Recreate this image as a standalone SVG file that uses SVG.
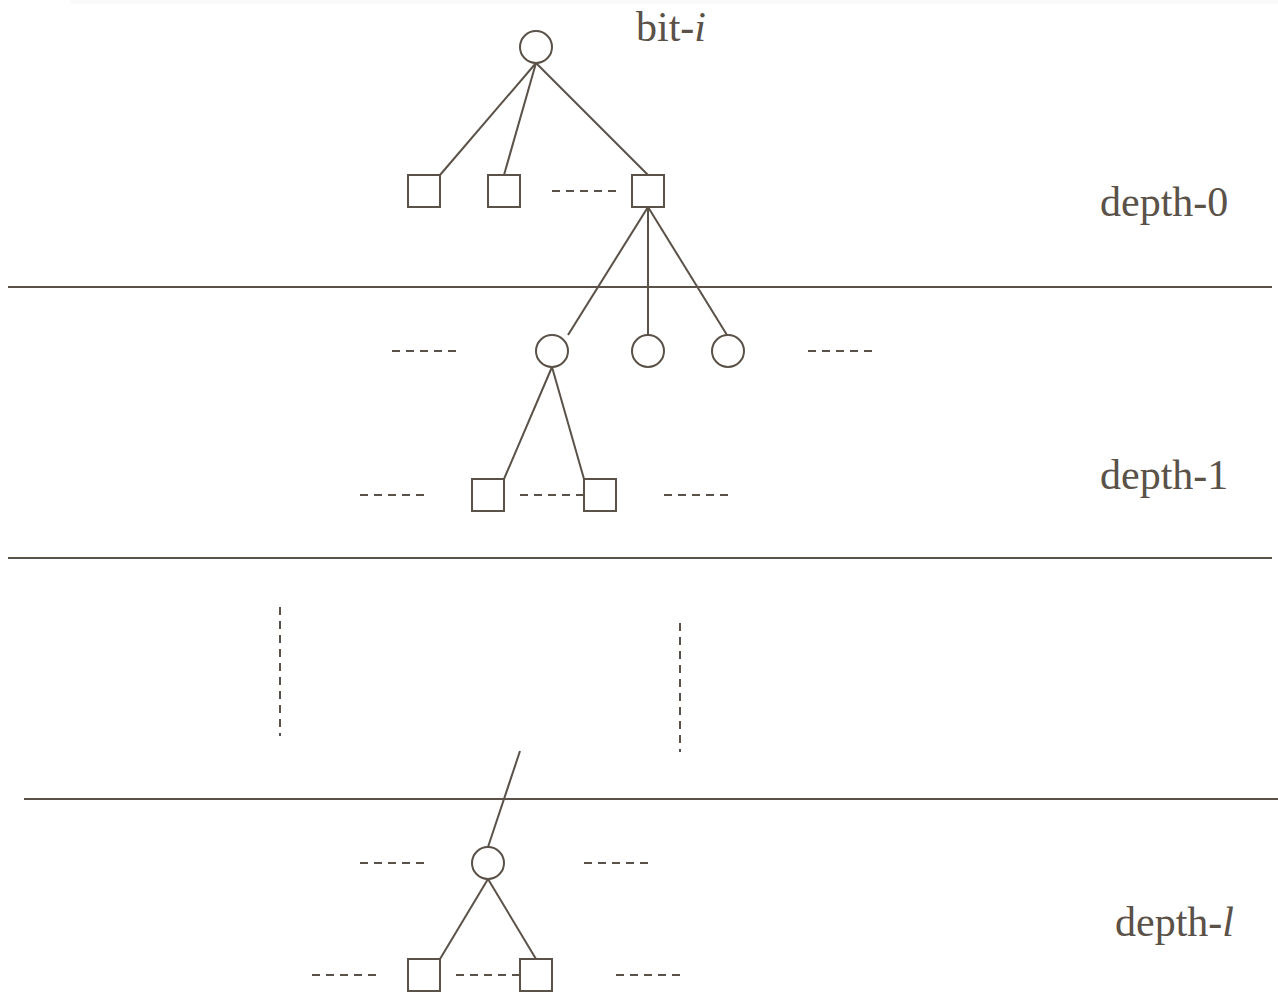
<svg xmlns="http://www.w3.org/2000/svg" width="1278" height="998" viewBox="0 0 1278 998">
  <style>
    .ln { stroke: #5a5148; stroke-width: 2; fill: none; }
    .dash { stroke: #5a5148; stroke-width: 2; fill: none; stroke-dasharray: 8 6; }
    .node { stroke: #5a5148; stroke-width: 2; fill: #ffffff; }
    .lbl { font-family: "Liberation Serif", "Times New Roman", serif; font-size: 42px; fill: #5a5148; }
  </style>
  <rect x="0" y="0" width="1278" height="998" fill="#ffffff"/>
  <rect x="70" y="0" width="1208" height="4" fill="#fafafa"/>

  <!-- level separators -->
  <g id="separators">
    <line class="ln" x1="8" y1="287" x2="1272" y2="287"/>
    <line class="ln" x1="8" y1="558" x2="1272" y2="558"/>
    <line class="ln" x1="24" y1="799" x2="1278" y2="799"/>
  </g>

  <!-- edges and ellipsis dashes -->
  <g id="connectors">
    <line class="ln" x1="536" y1="63" x2="440" y2="175"/>
    <line class="ln" x1="536" y1="63" x2="504" y2="175"/>
    <line class="ln" x1="536" y1="63" x2="648" y2="175"/>
    <line class="ln" x1="648" y1="207" x2="568" y2="335"/>
    <line class="ln" x1="648" y1="207" x2="648" y2="335"/>
    <line class="ln" x1="648" y1="207" x2="727" y2="335"/>
    <line class="ln" x1="552" y1="367" x2="504" y2="479"/>
    <line class="ln" x1="552" y1="367" x2="584" y2="479"/>
    <line class="ln" x1="520" y1="751" x2="488" y2="847"/>
    <line class="ln" x1="488" y1="879" x2="440" y2="959"/>
    <line class="ln" x1="488" y1="879" x2="536" y2="959"/>

    <line class="dash" x1="552" y1="191" x2="616" y2="191"/>
    <line class="dash" x1="392" y1="351" x2="456" y2="351"/>
    <line class="dash" x1="808" y1="351" x2="872" y2="351"/>
    <line class="dash" x1="360" y1="495" x2="424" y2="495"/>
    <line class="dash" x1="520" y1="495" x2="584" y2="495"/>
    <line class="dash" x1="664" y1="495" x2="728" y2="495"/>
    <line class="dash" x1="280" y1="607" x2="280" y2="736"/>
    <line class="dash" x1="680" y1="623" x2="680" y2="752"/>
    <line class="dash" x1="360" y1="863" x2="424" y2="863"/>
    <line class="dash" x1="584" y1="863" x2="648" y2="863"/>
    <line class="dash" x1="312" y1="975" x2="376" y2="975"/>
    <line class="dash" x1="456" y1="975" x2="520" y2="975"/>
    <line class="dash" x1="616" y1="975" x2="680" y2="975"/>
  </g>

  <!-- depth-0 -->
  <g id="root"><circle class="node" cx="536" cy="47" r="16"/></g>
  <g id="sq0a"><rect class="node" x="408" y="175" width="32" height="32"/></g>
  <g id="sq0b"><rect class="node" x="488" y="175" width="32" height="32"/></g>
  <g id="sq0c"><rect class="node" x="632" y="175" width="32" height="32"/></g>

  <!-- depth-1 -->
  <g id="c1a"><circle class="node" cx="552" cy="351" r="16"/></g>
  <g id="c1b"><circle class="node" cx="648" cy="351" r="16"/></g>
  <g id="c1c"><circle class="node" cx="728" cy="351" r="16"/></g>
  <g id="sq1a"><rect class="node" x="472" y="479" width="32" height="32"/></g>
  <g id="sq1b"><rect class="node" x="584" y="479" width="32" height="32"/></g>

  <!-- depth-l -->
  <g id="cl"><circle class="node" cx="488" cy="863" r="16"/></g>
  <g id="sqla"><rect class="node" x="408" y="959" width="32" height="32"/></g>
  <g id="sqlb"><rect class="node" x="520" y="959" width="32" height="32"/></g>

  <!-- labels -->
  <g id="labels">
    <text class="lbl" x="636" y="41">bit-<tspan font-style="italic">i</tspan></text>
    <text class="lbl" x="1100" y="216">depth-0</text>
    <text class="lbl" x="1100" y="489">depth-1</text>
    <text class="lbl" x="1115" y="936">depth-<tspan font-style="italic">l</tspan></text>
  </g>
</svg>
